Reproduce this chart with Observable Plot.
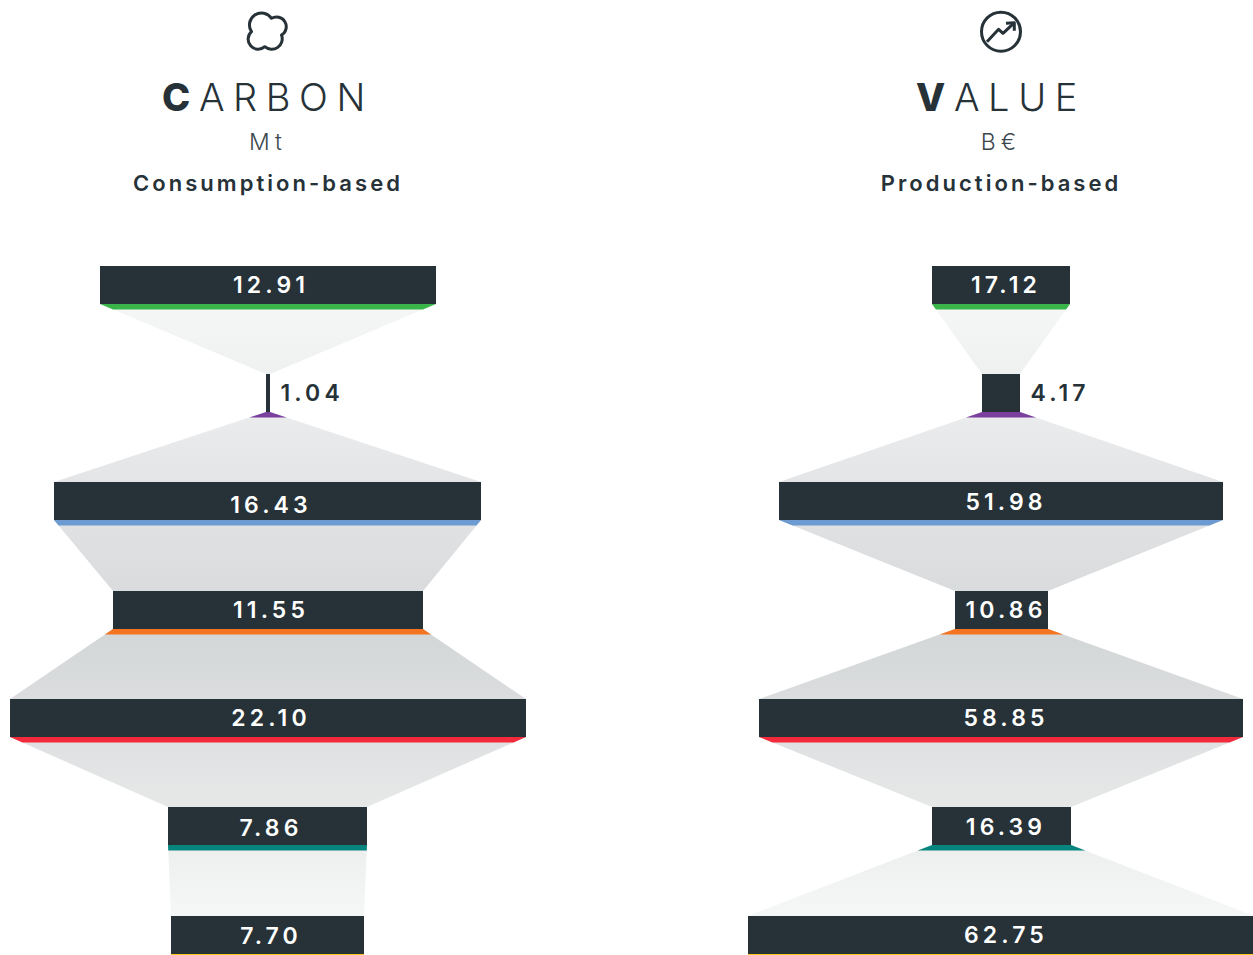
<!DOCTYPE html>
<html><head><meta charset="utf-8">
<script src="https://cdn.jsdelivr.net/npm/d3@7"></script>
<script src="https://cdn.jsdelivr.net/npm/@observablehq/plot@0.6"></script>
<style>
html,body{margin:0;padding:0;background:#fff;overflow:hidden}
body{width:1253px;height:955px;position:relative;font-family:Inter,"Noto Sans",sans-serif;color:#263238}
#header{position:relative;height:210px}
.col{position:absolute;top:0;transform:translateX(-50%);text-align:center;white-space:nowrap}
.title{position:absolute;top:72px;left:50%;transform:translateX(-50%);font-size:38px;line-height:50px;font-weight:300;letter-spacing:8.6px}
.title b{font-weight:800}
.unit{position:absolute;top:128px;left:50%;transform:translateX(-50%);font-size:23px;line-height:28px;font-weight:300;letter-spacing:5px;color:#3b474d}
.basis{position:absolute;top:169px;left:50%;transform:translateX(-50%);font-size:22px;line-height:28px;font-weight:600;letter-spacing:3.05px}
svg.icon{position:absolute;left:0;top:0;overflow:visible}
#chart svg{display:block}
</style></head><body>
<div id="header"></div><div id="chart"></div>
<script>
const stages = ["s1","s2","s3","s4","s5","s6","s7"];
const stageColors = ["#39b54a","#7b3f9d","#6d9bd1","#f47421","#f32a3c","#06857f","#fdc91a"];
const carbonLabels = ["12.91","1.04","16.43","11.55","22.10","7.86","7.70"];
const valueLabels = ["17.12","4.17","51.98","10.86","58.85","16.39","62.75"];
// drawn bar lengths (they are not proportional to the printed numbers)
const carbonLengths = [336,4,427,310,516,199,193];
const valueLengths = [138,38,444,93,484,139,506];
// rows down the funnel, in the y scale's units
const rowTops = [0,108,216,325,433,541,650];
const carbonLabelNudge = [0,0,4,0,0,2,1];
const valueLabelNudge = [0,0,1,0,0,1,0];
const panels = [
  {name:"Carbon", center:267.9, labelShift:2.6, labels:carbonLabels, lengths:carbonLengths, nudge:carbonLabelNudge},
  {name:"Value", center:1001, labelShift:4.5, labels:valueLabels, lengths:valueLengths, nudge:valueLabelNudge}
];
const barDepth = 38, stripDepth = 5.5;
const gradientStops = [[309,"#f5f6f6"],[370,"#eff1f1"],[420,"#e9ebec"],[480,"#e3e5e6"],[525,"#dfe1e2"],[590,"#d9dbdc"],[635,"#d4d7d8"],[697,"#dadcdd"],[745,"#dfe1e2"],[805,"#e6e8e8"],[855,"#eef0f0"],[910,"#f5f6f6"]];
const headerH = 210;

const bars=[], connectors=[], strips=[], labels=[];
panels.forEach(p=>{
  stages.forEach((s,i)=>{
    const w=p.lengths[i], last=i===stages.length-1, next=last?w:p.lengths[i+1], id=p.name+s;
    const top=rowTops[i], bottom=top+barDepth, nextTop=last?bottom+70:rowTops[i+1];
    const left=Math.round(p.center-w/2), nextLeft=Math.round(p.center-next/2);
    bars.push({x1:left,x2:left+w,y1:top,y2:bottom});
    const f=stripDepth/(nextTop-bottom);
    const mid=left+w/2, nextW=next;
    const wf=w+(nextW-w)*f;
    strips.push({seg:id,color:stageColors[i],x1:left,x2:left+w,y:bottom});
    strips.push({seg:id,color:stageColors[i],x1:mid-wf/2,x2:mid+wf/2,y:bottom+stripDepth});
    if(!last){
      connectors.push({seg:id,x1:left,x2:left+w,y:bottom});
      connectors.push({seg:id,x1:nextLeft,x2:nextLeft+next,y:nextTop});
    }
    const inside=w>60;
    labels.push({text:p.labels[i],inside,x:inside?p.center+p.labelShift:left+w+10,y:top+barDepth/2+p.nudge[i]});
  });
});

const gradientDefs=()=>{
  const defs=d3.create("svg:defs");
  const g=defs.append("linearGradient").attr("id","flow").attr("gradientUnits","userSpaceOnUse")
    .attr("x1",0).attr("x2",0).attr("y1",0).attr("y2",745);
  gradientStops.forEach(([y,c])=>g.append("stop").attr("offset",(y-headerH)/745).attr("stop-color",c));
  return defs.node();
};
const labelStyle={fontFamily:"Inter, 'Noto Sans', sans-serif",fontSize:23,fontWeight:600,lineAnchor:"middle"};

const plot=Plot.plot({
  width:1253,height:745,margin:0,
  style:{background:"transparent",letterSpacing:"4.1px"},
  x:{domain:[0,1253],range:[0,1253],axis:null},
  y:{domain:[0,688],range:[56,744],axis:null},
  color:{type:"identity"},
  marks:[
    gradientDefs,
    Plot.areaX(connectors,{x1:"x1",x2:"x2",y:"y",z:"seg",fill:"url(#flow)",curve:"linear"}),
    Plot.areaX(strips,{x1:"x1",x2:"x2",y:"y",z:"seg",fill:"color",curve:"linear"}),
    Plot.rect(bars,{x1:"x1",x2:"x2",y1:"y1",y2:"y2",fill:"#263238"}),
    Plot.text(labels.filter(d=>d.inside),{x:"x",y:"y",text:"text",fill:"#fff",textAnchor:"middle",...labelStyle}),
    Plot.text(labels.filter(d=>!d.inside),{x:"x",y:"y",text:"text",fill:"#263238",textAnchor:"start",...labelStyle})
  ]
});
document.getElementById("chart").append(plot);

const headers=[
 {center:268,first:"C",rest:"ARBON",unit:"Mt",basis:"Consumption-based",
  icon:`<path d="M251.5 31.7A11 11 0 1 1 271.5 18.3A9.5 9.5 0 1 1 281.5 35A10.5 10.5 0 0 1 264.8 46.7A9 9 0 0 1 251.5 31.7Z"/>`},
 {center:1001,first:"V",rest:"ALUE",unit:"B€",basis:"Production-based",
  icon:`<circle cx="1001" cy="31.7" r="19.5"/><path d="M987 41.7L998.6 29.3L1003 33.3L1013.6 23.3"/><path d="M1006 23.3L1014.3 22.7L1014.3 30.7"/>`}
];
const hd=document.getElementById("header");
headers.forEach(h=>{
  hd.insertAdjacentHTML("beforeend",`<div class="col" style="left:${h.center}px;width:0"><div class="title"><b>${h.first}</b>${h.rest}</div><div class="unit">${h.unit}</div><div class="basis">${h.basis}</div></div>`);
  hd.insertAdjacentHTML("beforeend",`<svg class="icon" width="1253" height="60" fill="none" stroke="#263238" stroke-width="3" stroke-linejoin="round">${h.icon}</svg>`);
});
</script>
</body></html>
